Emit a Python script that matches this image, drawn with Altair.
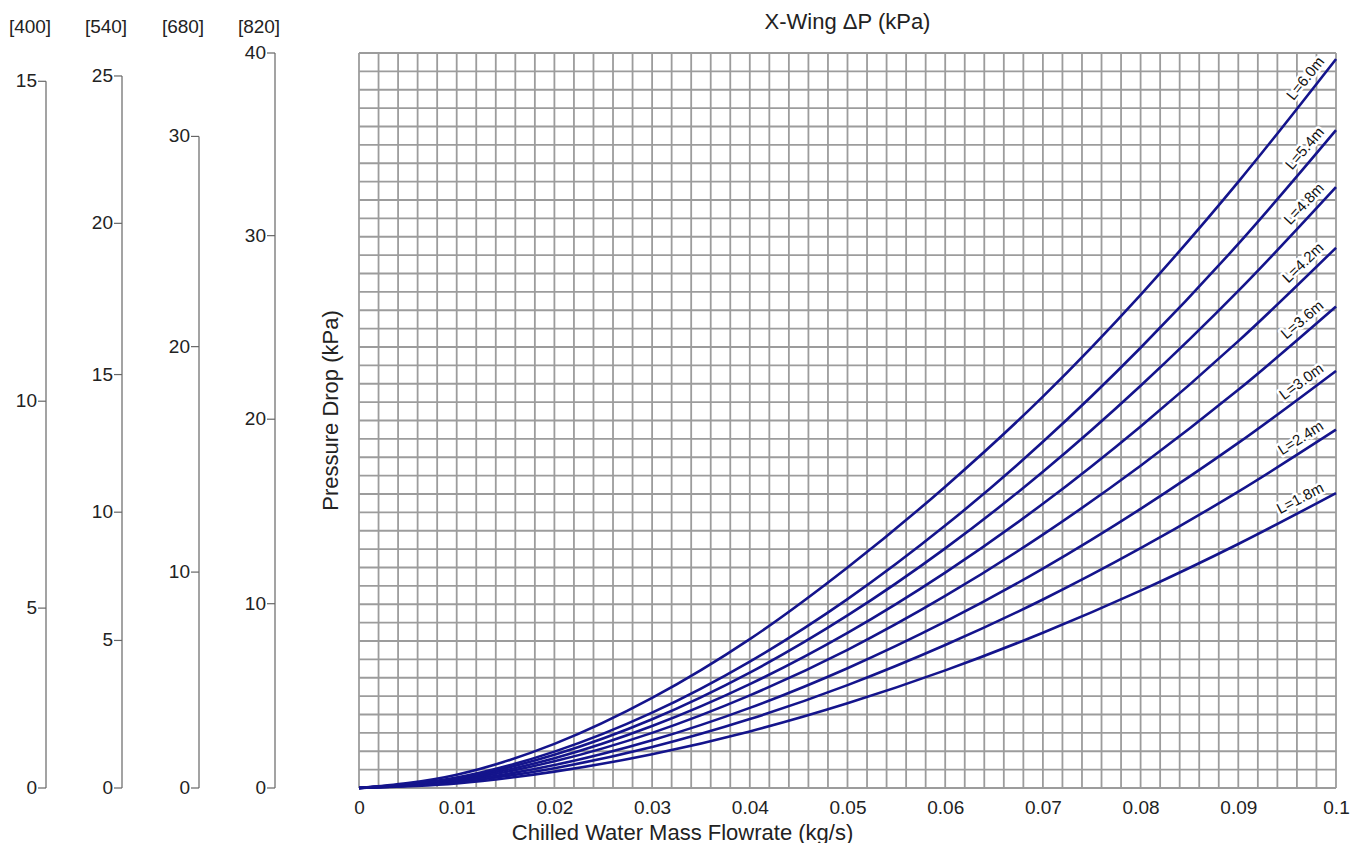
import math
import altair as alt
import pandas as pd

# ---------------- data ----------------
flow = [0.0, 0.01, 0.02, 0.03, 0.04, 0.05, 0.06, 0.07, 0.08, 0.09, 0.10]

length_labels = ["L=1.8m", "L=2.4m", "L=3.0m", "L=3.6m",
                 "L=4.2m", "L=4.8m", "L=5.4m", "L=6.0m"]

dp_L18 = [0, 0.25, 0.89, 1.84, 3.08, 4.61, 6.40, 8.45, 10.74, 13.28, 16.05]
dp_L24 = [0, 0.31, 1.08, 2.23, 3.75, 5.60, 7.78, 10.26, 13.05, 16.13, 19.50]
dp_L30 = [0, 0.36, 1.25, 2.60, 4.36, 6.52, 9.05, 11.94, 15.19, 18.78, 22.70]
dp_L36 = [0, 0.42, 1.45, 3.00, 5.04, 7.52, 10.45, 13.79, 17.54, 21.67, 26.20]
dp_L42 = [0, 0.47, 1.62, 3.37, 5.65, 8.44, 11.72, 15.47, 19.68, 24.32, 29.40]
dp_L48 = [0, 0.52, 1.81, 3.74, 6.28, 9.39, 13.04, 17.21, 21.89, 27.05, 32.70]
dp_L54 = [0, 0.57, 1.98, 4.10, 6.88, 10.28, 14.28, 18.84, 23.96, 29.61, 35.80]
dp_L60 = [0, 0.72, 2.40, 4.90, 8.10, 12.00, 16.40, 21.30, 26.84, 32.99, 39.67]

series = [dp_L18, dp_L24, dp_L30, dp_L36, dp_L42, dp_L48, dp_L54, dp_L60]

x_tick_values = [0, 0.01, 0.02, 0.03, 0.04, 0.05, 0.06, 0.07, 0.08, 0.09, 0.1]

# secondary pressure-drop scales on the left: tick labels and the
# main-scale (kPa) height at which each tick sits
left_axis_names = ["[400]", "[540]", "[680]", "[820]"]
ax400_ticks = [0, 5, 10, 15]
ax400_pos = [0, 9.79, 21.05, 38.46]
ax540_ticks = [0, 5, 10, 15, 20, 25]
ax540_pos = [0, 8.03, 15.01, 22.50, 30.73, 38.75]
ax680_ticks = [0, 10, 20, 30]
ax680_pos = [0, 11.75, 24.02, 35.46]
ax820_ticks = [0, 10, 20, 30, 40]
ax820_pos = [0, 10.03, 20.07, 30.06, 40.0]

left_ticks = [ax400_ticks, ax540_ticks, ax680_ticks, ax820_ticks]
left_pos = [ax400_pos, ax540_pos, ax680_pos, ax820_pos]

chart_title = "X-Wing \u0394P (kPa)"
x_title = "Chilled Water Mass Flowrate (kg/s)"
y_title = "Pressure Drop (kPa)"

# ---------------- layout / style ----------------
W, H = 977, 735
XMAX, YMAX = 0.1, 40
FONT = "Liberation Sans"
NAVY = "#14148c"
GRID = "#9c9c9c"
TXT = "#222222"
AXIS_X = [-313, -237, -160, -84]   # pixel offsets of the left scales from plot edge

xs = alt.Scale(domain=[0, XMAX], nice=False, zero=True)
ys = alt.Scale(domain=[0, YMAX], nice=False, zero=True)

x_axis = alt.Axis(values=x_tick_values, format=".2~f", grid=False, ticks=False,
                  domain=False, labelFontSize=19, labelPadding=10, labelFlush=False,
                  labelFont=FONT, labelColor=TXT,
                  title=x_title, titleFont=FONT, titleFontSize=22,
                  titleFontWeight="normal", titleColor=TXT,
                  titleX=323, titlePadding=5)
y_axis = alt.Axis(labels=False, ticks=False, domain=False, grid=False,
                  title=y_title, titleFont=FONT, titleFontSize=22,
                  titleFontWeight="normal", titleColor=TXT,
                  titleX=-29, titleY=357, titleBaseline="middle")

rows = []
for lab, vals in zip(length_labels, series):
    for f, v in zip(flow, vals):
        rows.append({"flow": f, "dp": v, "L": lab})
df = pd.DataFrame(rows)

lab_rows = []
for lab, vals in zip(length_labels, series):
    dxp = (flow[-1] - flow[-2]) / XMAX * W
    dyp = (vals[-1] - vals[-2]) / YMAX * H
    ang = math.degrees(math.atan2(dyp, dxp))
    lab_rows.append({"flow": flow[-1], "dp": vals[-1], "L": lab, "ang": 360 - ang})
lab_df = pd.DataFrame(lab_rows)

grid_x = pd.DataFrame({"gx": [round(i * 0.002, 3) for i in range(51)]})
grid_y = pd.DataFrame({"gy": list(range(41))})

vgrid = alt.Chart(grid_x).mark_rule(color=GRID, strokeWidth=1.8).encode(
    x=alt.X("gx:Q", scale=xs, axis=x_axis)
)
hgrid = alt.Chart(grid_y).mark_rule(color=GRID, strokeWidth=1.8).encode(
    y=alt.Y("gy:Q", scale=ys, axis=y_axis)
)

lines = alt.Chart(df).mark_line(color=NAVY, strokeWidth=2.6, interpolate="monotone").encode(
    x=alt.X("flow:Q", scale=xs, axis=x_axis),
    y=alt.Y("dp:Q", scale=ys, axis=y_axis),
    detail="L:N",
)

label_enc = dict(
    x=alt.X("flow:Q", scale=xs, axis=x_axis),
    y=alt.Y("dp:Q", scale=ys, axis=y_axis),
    angle=alt.Angle("ang:Q", scale=None),
    text="L:N",
)
label_halo = alt.Chart(lab_df).mark_text(
    font=FONT, fontSize=15, color="white", stroke="white", strokeWidth=5,
    strokeJoin="round", align="right", baseline="bottom", dx=-9, dy=-4
).encode(**label_enc)
labels = alt.Chart(lab_df).mark_text(
    font=FONT, fontSize=15, color="#111111", align="right", baseline="bottom",
    dx=-9, dy=-4
).encode(**label_enc)

title_mark = alt.Chart(pd.DataFrame({"t": [chart_title]})).mark_text(
    font=FONT, fontSize=22, color=TXT, align="center", baseline="middle"
).encode(
    x=alt.value(W / 2),
    y=alt.value(-31),
    text="t:N",
)

layers = [vgrid, hgrid, lines, label_halo, labels, title_mark]

for name, ticks, pos, ax in zip(left_axis_names, left_ticks, left_pos, AXIS_X):
    tdf = pd.DataFrame({"tick": [str(t) for t in ticks], "pos": pos})
    ldf = pd.DataFrame({"y0": [0], "y1": [pos[-1]]})
    hdf = pd.DataFrame({"h": [name]})
    axis_line = alt.Chart(ldf).mark_rule(color="#666666", strokeWidth=1.2).encode(
        x=alt.value(ax),
        y=alt.Y("y0:Q", scale=ys, axis=y_axis),
        y2="y1:Q",
    )
    tick_marks = alt.Chart(tdf).mark_rule(color="#666666", strokeWidth=1.2).encode(
        x=alt.value(ax - 8),
        x2=alt.value(ax),
        y=alt.Y("pos:Q", scale=ys, axis=y_axis),
    )
    tick_text = alt.Chart(tdf).mark_text(
        font=FONT, fontSize=19, color=TXT, align="right", baseline="middle"
    ).encode(
        x=alt.value(ax - 9),
        y=alt.Y("pos:Q", scale=ys, axis=y_axis),
        text="tick:N",
    )
    header = alt.Chart(hdf).mark_text(
        font=FONT, fontSize=19, color=TXT, align="center", baseline="middle"
    ).encode(
        x=alt.value(ax - 16),
        y=alt.value(-26),
        text="h:N",
    )
    layers += [axis_line, tick_marks, tick_text, header]

chart = alt.layer(*layers).properties(
    width=W, height=H,
    padding={"top": 3, "left": 0, "right": 0, "bottom": 0},
).configure_view(stroke=None)

chart.save("out.html", embed_options={"renderer": "svg", "actions": False})
